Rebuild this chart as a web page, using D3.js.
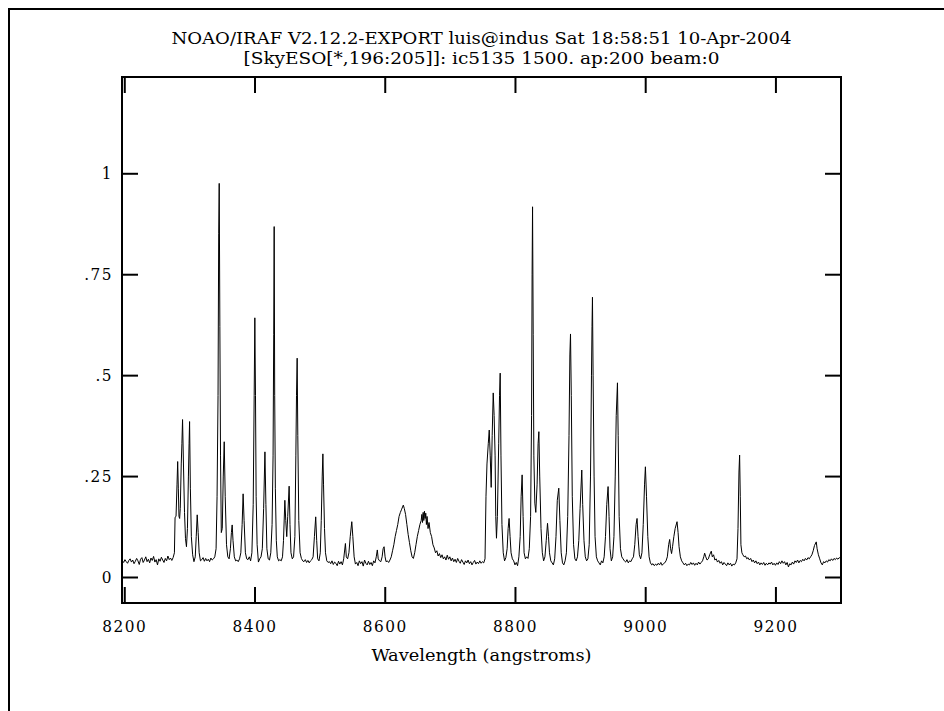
<!DOCTYPE html>
<html>
<head>
<meta charset="utf-8">
<script src="https://cdn.jsdelivr.net/npm/d3@7"></script>
<style>
  html, body { margin: 0; padding: 0; background: #fff; }
  svg { display: block; }
  text { font-family: "DejaVu Serif Condensed", "DejaVu Serif", serif; fill: #000; }
</style>
</head>
<body>
<svg id="chart" width="944" height="711"></svg>
<script>
// Plot header (IRAF splot style)
const titleLines = [
  "NOAO/IRAF V2.12.2-EXPORT luis@indus Sat 18:58:51 10-Apr-2004",
  "[SkyESO[*,196:205]]: ic5135 1500. ap:200 beam:0"
];
const xLabel = "Wavelength (angstroms)";

// Axis ranges and ticks
const xRange = [8196.5, 9300.7];
const yRange = [-0.0644, 1.2385];
const xTicks = [8200, 8400, 8600, 8800, 9000, 9200];
const yTicks = [0, 0.25, 0.5, 0.75, 1];
const yTickLabels = ["0", ".25", ".5", ".75", "1"];

// Sky spectrum: [wavelength (A), flux]
const spectrum = [
  [8197,0.040],[8199,0.036],[8201,0.043],[8203,0.038],[8205,0.034],[8207,0.041],[8209,0.045],[8211,0.037],
  [8213,0.042],[8215,0.033],[8217,0.039],[8219,0.046],[8221,0.040],[8223,0.031],[8225,0.044],[8227,0.048],
  [8229,0.036],[8231,0.042],[8233,0.050],[8235,0.038],[8237,0.044],[8239,0.035],[8241,0.047],[8243,0.041],
  [8245,0.051],[8247,0.037],[8249,0.043],[8251,0.030],[8253,0.045],[8255,0.039],[8257,0.049],[8259,0.042],
  [8261,0.036],[8263,0.046],[8265,0.040],[8267,0.052],[8269,0.043],[8271,0.047],[8273,0.041],[8275,0.048],
  [8277,0.060],[8278,0.148],[8279.5,0.150],[8281,0.230],[8282,0.286],[8283,0.220],[8284,0.150],[8285,0.145],
  [8286,0.170],[8287.5,0.280],[8288.5,0.330],[8289.5,0.390],[8291,0.270],[8292.5,0.160],[8294,0.095],[8295.5,0.075],
  [8297,0.120],[8298.5,0.250],[8299.5,0.330],[8300.3,0.385],[8301.5,0.220],[8303,0.100],[8305,0.055],[8307,0.038],
  [8309,0.050],[8310.5,0.100],[8312,0.154],[8313.5,0.110],[8315,0.060],[8317,0.040],[8319,0.043],[8321,0.048],
  [8323,0.039],[8325,0.046],[8327,0.040],[8329,0.044],[8331,0.038],[8333,0.047],[8335,0.042],[8337,0.045],
  [8339,0.050],[8341,0.070],[8342.5,0.200],[8344,0.450],[8345,0.850],[8345.8,0.975],[8346.8,0.620],[8347.8,0.300],
  [8349,0.110],[8350.5,0.120],[8352,0.250],[8353.5,0.335],[8355,0.200],[8357,0.080],[8359,0.050],[8361,0.045],
  [8363,0.070],[8364.5,0.110],[8365.7,0.129],[8367,0.090],[8369,0.050],[8371,0.040],[8373,0.042],[8375,0.038],
  [8377,0.045],[8379,0.060],[8381,0.130],[8382.5,0.206],[8384,0.140],[8386,0.060],[8388,0.045],[8390,0.043],
  [8392,0.050],[8394,0.040],[8396,0.060],[8398,0.180],[8399.5,0.450],[8400.5,0.642],[8401.5,0.450],[8402.5,0.200],
  [8404,0.080],[8406,0.037],[8408,0.045],[8410,0.050],[8412,0.070],[8414,0.170],[8416,0.310],[8417.5,0.180],
  [8419,0.070],[8421,0.045],[8423,0.042],[8425,0.060],[8427,0.130],[8428.5,0.300],[8429.5,0.600],[8430.2,0.868],
  [8431,0.450],[8432,0.220],[8433.5,0.090],[8435,0.050],[8437,0.040],[8439,0.043],[8441,0.040],[8443,0.050],
  [8444.5,0.090],[8446.6,0.190],[8448,0.140],[8449.5,0.100],[8451,0.150],[8453.2,0.225],[8454.5,0.130],[8456,0.060],
  [8458,0.045],[8460,0.050],[8462,0.100],[8463.5,0.300],[8464.5,0.450],[8465.5,0.542],[8466.5,0.350],[8468,0.140],
  [8470,0.060],[8472,0.046],[8474,0.040],[8476,0.038],[8478,0.043],[8480,0.036],[8482,0.041],[8484,0.035],
  [8486,0.040],[8488,0.043],[8490,0.050],[8492,0.100],[8494,0.149],[8495.5,0.090],[8497,0.045],[8499,0.040],
  [8501,0.060],[8502.5,0.140],[8504,0.250],[8505,0.305],[8506,0.230],[8507.5,0.120],[8509,0.060],[8511,0.040],
  [8513,0.036],[8515,0.038],[8517,0.033],[8519,0.040],[8521,0.031],[8523,0.037],[8525,0.034],[8527,0.028],
  [8529,0.039],[8531,0.032],[8533,0.038],[8535,0.030],[8537,0.045],[8539.6,0.083],[8541,0.050],[8543,0.045],
  [8545,0.060],[8547,0.100],[8549.4,0.137],[8551,0.100],[8553,0.050],[8555,0.032],[8557,0.036],[8559,0.028],
  [8561,0.040],[8563,0.033],[8565,0.038],[8567,0.027],[8569,0.042],[8571,0.034],[8573,0.030],[8575,0.039],
  [8577,0.031],[8579,0.036],[8581,0.028],[8583,0.040],[8585,0.035],[8587,0.050],[8588.6,0.067],[8590,0.045],
  [8592,0.040],[8594,0.038],[8596,0.050],[8597.5,0.070],[8599,0.075],[8600.5,0.050],[8602,0.038],[8604,0.040],
  [8606,0.036],[8608,0.042],[8610,0.050],[8612,0.065],[8614,0.080],[8616,0.100],[8618,0.115],[8620,0.130],
  [8622,0.150],[8624,0.160],[8626,0.168],[8628.5,0.178],[8630,0.170],[8632,0.155],[8634,0.130],[8636,0.105],
  [8638,0.085],[8640,0.065],[8642,0.050],[8644,0.046],[8646,0.060],[8648,0.080],[8650,0.100],[8652,0.115],
  [8654,0.130],[8656,0.140],[8657,0.155],[8658,0.135],[8659,0.160],[8660,0.140],[8661,0.163],[8662,0.145],
  [8663,0.158],[8664,0.130],[8665,0.150],[8666.5,0.120],[8668,0.135],[8670,0.110],[8672,0.100],[8674,0.080],
  [8676,0.072],[8678,0.060],[8680,0.065],[8682,0.052],[8684,0.058],[8686,0.048],[8688,0.055],[8690,0.045],
  [8692,0.050],[8694,0.042],[8696,0.054],[8698,0.044],[8700,0.050],[8702,0.040],[8704,0.047],[8706,0.038],
  [8708,0.044],[8710,0.036],[8712,0.046],[8714,0.039],[8716,0.034],[8718,0.043],[8720,0.037],[8722,0.031],
  [8724,0.040],[8726,0.035],[8728,0.042],[8730,0.033],[8732,0.038],[8734,0.030],[8736,0.036],[8738,0.041],
  [8740,0.032],[8742,0.037],[8744,0.033],[8746,0.040],[8748,0.034],[8750,0.038],[8752,0.035],[8754,0.045],
  [8755.5,0.200],[8757,0.280],[8759,0.330],[8760.5,0.364],[8762,0.300],[8763.5,0.222],[8765,0.350],[8766.6,0.456],
  [8768,0.400],[8769.5,0.300],[8770.5,0.150],[8771.6,0.096],[8773,0.150],[8775,0.330],[8776.3,0.450],[8777.3,0.505],
  [8778.5,0.300],[8780,0.130],[8782,0.060],[8784,0.040],[8786,0.048],[8788,0.070],[8789.5,0.120],[8791,0.145],
  [8792.5,0.100],[8794,0.060],[8796,0.045],[8798,0.040],[8800,0.030],[8802,0.036],[8804,0.028],[8806,0.050],
  [8808,0.100],[8809.5,0.200],[8811,0.253],[8812.5,0.150],[8814,0.060],[8816,0.045],[8818,0.050],[8820,0.046],
  [8822,0.070],[8824,0.150],[8825.5,0.400],[8826.3,0.750],[8827,0.917],[8828,0.600],[8829,0.300],[8830.5,0.183],
  [8832,0.160],[8834,0.230],[8835.5,0.330],[8836.7,0.360],[8838,0.250],[8840,0.120],[8842,0.060],[8844,0.040],
  [8846,0.050],[8848,0.090],[8850,0.133],[8851.5,0.100],[8853,0.060],[8855,0.040],[8857,0.035],[8859,0.030],
  [8861,0.045],[8863,0.100],[8865,0.190],[8867.3,0.220],[8869,0.140],[8871,0.060],[8873,0.035],[8875,0.030],
  [8877,0.040],[8879,0.060],[8881,0.150],[8883,0.350],[8884.3,0.550],[8885.3,0.602],[8886.5,0.450],[8888,0.200],
  [8890,0.080],[8892,0.045],[8894,0.040],[8896,0.050],[8898,0.090],[8900,0.170],[8902.6,0.265],[8904,0.180],
  [8906,0.090],[8908,0.050],[8910,0.040],[8912,0.045],[8914,0.080],[8916,0.250],[8917.5,0.500],[8918.3,0.620],
  [8919,0.693],[8920,0.500],[8921.5,0.250],[8923,0.100],[8925,0.050],[8927,0.040],[8929,0.035],[8931,0.030],
  [8933,0.040],[8935,0.035],[8937,0.050],[8939,0.100],[8941,0.180],[8943,0.224],[8944.5,0.150],[8946,0.070],
  [8948,0.040],[8950,0.050],[8952,0.100],[8954,0.250],[8955.5,0.400],[8957.4,0.481],[8958.5,0.350],[8960,0.150],
  [8962,0.070],[8964,0.050],[8966,0.045],[8968,0.040],[8970,0.037],[8972,0.043],[8974,0.035],[8976,0.040],
  [8978,0.038],[8980,0.045],[8982,0.050],[8984,0.080],[8986,0.130],[8987.5,0.145],[8989,0.100],[8991,0.055],
  [8993,0.045],[8995,0.060],[8997,0.130],[8999,0.230],[9000.3,0.273],[9002,0.200],[9004,0.100],[9006,0.050],
  [9008,0.035],[9010,0.030],[9012,0.033],[9014,0.028],[9016,0.032],[9018,0.029],[9020,0.034],[9022,0.030],
  [9024,0.036],[9026,0.029],[9028,0.033],[9030,0.035],[9032,0.040],[9034,0.050],[9036,0.080],[9037.6,0.093],
  [9039,0.070],[9040.5,0.058],[9042,0.075],[9044,0.100],[9046,0.120],[9048.9,0.137],[9050.5,0.110],[9052,0.075],
  [9054,0.050],[9056,0.040],[9058,0.035],[9060,0.030],[9062,0.034],[9064,0.028],[9066,0.032],[9068,0.030],
  [9070,0.036],[9072,0.031],[9074,0.035],[9076,0.029],[9078,0.034],[9080,0.030],[9082,0.037],[9084,0.032],
  [9086,0.036],[9088,0.040],[9090,0.050],[9091.3,0.059],[9093,0.050],[9095,0.042],[9097,0.045],[9099,0.055],
  [9101.5,0.064],[9103,0.050],[9105,0.055],[9107,0.042],[9109,0.045],[9111,0.037],[9113,0.041],[9115,0.034],
  [9117,0.038],[9119,0.030],[9121,0.036],[9123,0.032],[9125,0.028],[9127,0.035],[9129,0.030],[9131,0.034],
  [9133,0.027],[9135,0.032],[9137,0.030],[9139,0.035],[9141,0.045],[9142.5,0.120],[9144,0.260],[9145,0.302],
  [9146,0.200],[9147,0.080],[9148.5,0.060],[9150,0.055],[9152,0.050],[9154,0.052],[9156,0.045],[9158,0.048],
  [9160,0.042],[9162,0.046],[9164,0.038],[9166,0.042],[9168,0.035],[9170,0.040],[9172,0.033],[9174,0.037],
  [9176,0.030],[9178,0.035],[9180,0.031],[9182,0.036],[9184,0.029],[9186,0.034],[9188,0.030],[9190,0.035],
  [9192,0.032],[9194,0.037],[9196,0.030],[9198,0.034],[9200,0.029],[9202,0.035],[9204,0.031],[9206,0.038],
  [9208,0.033],[9210,0.040],[9212,0.034],[9214,0.038],[9216,0.030],[9218,0.036],[9220,0.025],[9222,0.033],
  [9224,0.030],[9226,0.037],[9228,0.032],[9230,0.040],[9232,0.036],[9234,0.042],[9236,0.035],[9238,0.041],
  [9240,0.038],[9242,0.044],[9244,0.040],[9246,0.046],[9248,0.042],[9250,0.048],[9252,0.045],[9254,0.050],
  [9256,0.055],[9258,0.065],[9260,0.078],[9262.7,0.087],[9264,0.070],[9266,0.055],[9268,0.045],[9270,0.035],
  [9272,0.030],[9274,0.038],[9276,0.035],[9278,0.040],[9280,0.037],[9282,0.043],[9284,0.040],[9286,0.045],
  [9288,0.041],[9290,0.046],[9292,0.043],[9294,0.047],[9296,0.044],[9298,0.048],[9300,0.046]
];

// Layout
const frame = { left: 122, right: 841, top: 77, bottom: 603 };
const tickLen = 16;

const svg = d3.select("#chart");

// Page border (left and top edges of the plot sheet)
svg.append("path")
  .attr("d", "M9,711 L9,9 L944,9")
  .attr("fill", "none").attr("stroke", "#000").attr("stroke-width", 2);

const x = d3.scaleLinear().domain(xRange).range([frame.left, frame.right]);
const y = d3.scaleLinear().domain(yRange).range([frame.bottom, frame.top]);

// Header
svg.append("text")
  .attr("x", (frame.left + frame.right) / 2).attr("y", 44)
  .attr("text-anchor", "middle").attr("font-size", 16)
  .attr("textLength", 620).attr("lengthAdjust", "spacingAndGlyphs")
  .text(titleLines[0]);
svg.append("text")
  .attr("x", (frame.left + frame.right) / 2).attr("y", 64)
  .attr("text-anchor", "middle").attr("font-size", 16)
  .attr("textLength", 476).attr("lengthAdjust", "spacingAndGlyphs")
  .text(titleLines[1]);

// Spectrum
svg.append("clipPath").attr("id", "plotClip")
  .append("rect")
  .attr("x", frame.left).attr("y", frame.top)
  .attr("width", frame.right - frame.left).attr("height", frame.bottom - frame.top);

svg.append("path")
  .datum(spectrum)
  .attr("clip-path", "url(#plotClip)")
  .attr("fill", "none").attr("stroke", "#000").attr("stroke-width", 1)
  .attr("stroke-linejoin", "miter")
  .attr("d", d3.line().x(d => x(d[0])).y(d => y(d[1])));

// Axes: ticks pointing inward on all four sides
const fmtY = d => yTickLabels[yTicks.indexOf(d)];

const axisStyle = g => {
  g.select(".domain").remove();
  g.selectAll(".tick line").attr("stroke", "#000").attr("stroke-width", 2);
  g.selectAll(".tick text").attr("font-size", 17).attr("fill", "#000")
    .attr("letter-spacing", 1.5)
    .style("font-family", "\"DejaVu Serif Condensed\", \"DejaVu Serif\", serif");
};

svg.append("g")
  .attr("transform", `translate(0,${frame.bottom})`)
  .call(d3.axisBottom(x).tickValues(xTicks).tickFormat(d3.format("d"))
        .tickSizeInner(-tickLen).tickSizeOuter(0).tickPadding(17))
  .call(axisStyle);

svg.append("g")
  .attr("transform", `translate(0,${frame.top})`)
  .call(d3.axisTop(x).tickValues(xTicks).tickFormat("")
        .tickSizeInner(-tickLen).tickSizeOuter(0))
  .call(axisStyle);

svg.append("g")
  .attr("transform", `translate(${frame.left},0)`)
  .call(d3.axisLeft(y).tickValues(yTicks).tickFormat(fmtY)
        .tickSizeInner(-tickLen).tickSizeOuter(0).tickPadding(9))
  .call(axisStyle);

svg.append("g")
  .attr("transform", `translate(${frame.right},0)`)
  .call(d3.axisRight(y).tickValues(yTicks).tickFormat("")
        .tickSizeInner(-tickLen).tickSizeOuter(0))
  .call(axisStyle);

// Plot frame
svg.append("rect")
  .attr("x", frame.left).attr("y", frame.top)
  .attr("width", frame.right - frame.left).attr("height", frame.bottom - frame.top)
  .attr("fill", "none").attr("stroke", "#000").attr("stroke-width", 2);

// Axis label
svg.append("text")
  .attr("x", (frame.left + frame.right) / 2).attr("y", 661)
  .attr("text-anchor", "middle").attr("font-size", 17)
  .attr("textLength", 220).attr("lengthAdjust", "spacingAndGlyphs")
  .text(xLabel);
</script>
</body>
</html>
